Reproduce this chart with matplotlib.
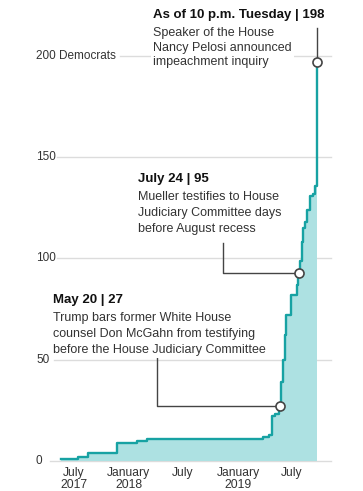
import matplotlib
matplotlib.use('Agg')
import matplotlib.pyplot as plt
import matplotlib.dates as mdates
import matplotlib.transforms as mtrans
from datetime import datetime

plt.rcParams['font.family'] = ['Liberation Sans', 'DejaVu Sans']

# cumulative count of House Democrats supporting an impeachment inquiry
dates = ['2017-05-18', '2017-07-15', '2017-08-18', '2017-11-21', '2018-01-27',
         '2018-03-01', '2019-03-27', '2019-04-16', '2019-04-26', '2019-05-04',
         '2019-05-18', '2019-05-20', '2019-05-26', '2019-06-01', '2019-06-06',
         '2019-06-12', '2019-06-29', '2019-07-16', '2019-07-20', '2019-07-24',
         '2019-07-27', '2019-08-02', '2019-08-05', '2019-08-13', '2019-08-19',
         '2019-08-30', '2019-09-10', '2019-09-16', '2019-09-23', '2019-09-24']
counts = [1, 2, 4, 9, 10, 11, 12, 13, 22, 23, 25, 27, 39, 50, 62, 72, 82, 87,
          91, 93, 99, 108, 115, 118, 124, 131, 132, 136, 138, 197]

xtick_dates = ['2017-07-01', '2018-01-01', '2018-07-01', '2019-01-01', '2019-07-01']
xtick_labels = ['July\n2017', 'January\n2018', 'July', 'January\n2019', 'July']
ytick_vals = [0, 50, 100, 150, 200]
ytick_labels = ['0', '50', '100', '150', '200 Democrats']

# callouts: date, value, header, body
notes = [
    ('2019-05-20', 27, 'May 20 | 27',
     'Trump bars former White House\ncounsel Don McGahn from testifying\nbefore the House Judiciary Committee'),
    ('2019-07-24', 93, 'July 24 | 95',
     'Mueller testifies to House\nJudiciary Committee days\nbefore August recess'),
    ('2019-09-24', 197, 'As of 10 p.m. Tuesday | 198',
     'Speaker of the House\nNancy Pelosi announced\nimpeachment inquiry'),
]

W, H = 363, 491
fig = plt.figure(figsize=(W / 100, H / 100), dpi=100)
ax = fig.add_axes([50 / W, 30 / H, 281 / W, 451 / H])

def dnum(s):
    return mdates.date2num(datetime.fromisoformat(s))

x = [dnum(d) for d in dates]
ref = dnum('2017-07-01')
ppd = 0.2987  # px per day
ax.set_xlim(ref - 24 / ppd, ref + 257 / ppd)
ax.set_ylim(0, 222.7)

teal = '#17a2a3'
ax.fill_between(x, counts, step='post', color='#ade1e2', lw=0, zorder=2)
ax.step(x, counts, where='post', color=teal, lw=1.7, zorder=3)

# gridlines start right after each label
lab_tr = mtrans.blended_transform_factory(ax.transAxes, ax.transData)
grid_start = [50, 54, 57, 57, 120]
for v, lab, gs in zip(ytick_vals, ytick_labels, grid_start):
    ax.axhline(v, xmin=(gs - 50) / 281, xmax=1, color='#dcdcdc', lw=1, zorder=1, clip_on=False)
    ax.text(-14 / 281, v, lab, fontsize=8.5, color='#333333', va='center', ha='left',
            transform=lab_tr)

ax.set_xticks([dnum(d) for d in xtick_dates])
ax.set_xticklabels(xtick_labels, fontsize=8.7, color='#333333', linespacing=1.1)
ax.tick_params(axis='x', length=0, pad=4)
ax.set_yticks([])
for s in ax.spines.values():
    s.set_visible(False)

# callout lines and markers
corners = [('2018-04-05', 51), ('2018-11-12', 107.6), (None, 214)]
for (d, v, head, body), (cd, cy) in zip(notes, corners):
    px = dnum(d)
    if cd is None:
        ax.plot([px, px], [v, cy], color='#444444', lw=1, zorder=4, clip_on=False)
    else:
        cx = dnum(cd)
        ax.plot([px, cx, cx], [v, v, cy], color='#444444', lw=1, zorder=4, clip_on=False)
    ax.plot(px, v, 'o', ms=6.5, mfc='white', mec='#444444', mew=1.2, zorder=5, clip_on=False)

# annotation text, positioned in pixels: x, header y, body line spacing
text_pos = [(53, 300, 1.45), (138, 179, 1.45), (153, 15, 1.3)]
for (d, v, head, body), (tx, ty, ls) in zip(notes, text_pos):
    fig.text(tx / W, 1 - ty / H, head, fontsize=9.5, fontweight='bold', color='#111111',
             va='center', ha='left')
    fig.text(tx / W, 1 - (ty + 12) / H, body, fontsize=9, color='#333333', va='top',
             ha='left', linespacing=ls,
             bbox=dict(facecolor='white', edgecolor='none', pad=1.5), zorder=6)

fig.savefig('out.png', dpi=100)
